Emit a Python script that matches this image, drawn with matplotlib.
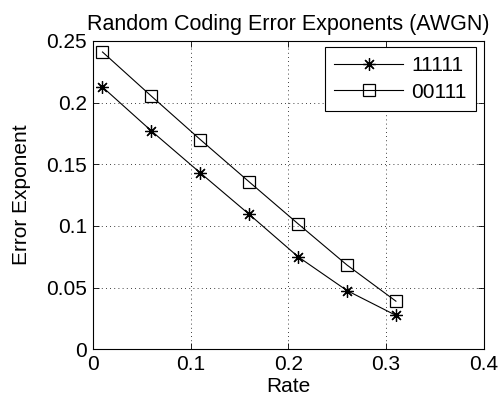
import matplotlib
matplotlib.use("Agg")
import matplotlib.pyplot as plt

# data
rate = [0.01, 0.06, 0.11, 0.16, 0.21, 0.26, 0.31]
exp_11111 = [0.2126, 0.1770, 0.1430, 0.1094, 0.0750, 0.0476, 0.0275]
exp_00111 = [0.2410, 0.2052, 0.1700, 0.1357, 0.1017, 0.0683, 0.0390]
x_ticks = [0, 0.1, 0.2, 0.3, 0.4]
y_ticks = [0, 0.05, 0.1, 0.15, 0.2, 0.25]
x_tick_labels = ["0", "0.1", "0.2", "0.3", "0.4"]
y_tick_labels = ["0", "0.05", "0.1", "0.15", "0.2", "0.25"]

plt.rcParams["font.family"] = ["Liberation Sans", "DejaVu Sans"]

fig = plt.figure(figsize=(5.02, 4.09), dpi=100)
ax = fig.add_axes([0.1847, 0.146, 0.7793, 0.754])

ax.plot(rate, exp_11111, color="black", linewidth=0.8,
        marker=(8, 2, 0), markersize=9, markeredgewidth=0.9, label="11111")
ax.plot(rate, exp_00111, color="black", linewidth=0.8,
        marker="s", markersize=8.5, markerfacecolor="none",
        markeredgewidth=0.9, label="00111")

ax.set_xlim(0, 0.4)
ax.set_ylim(0, 0.25)
ax.set_xticks(x_ticks)
ax.set_xticklabels(x_tick_labels)
ax.set_yticks(y_ticks)
ax.set_yticklabels(y_tick_labels)
ax.tick_params(direction="in", length=4, width=0.6, labelsize=15,
               top=True, right=True, pad=4)
ax.grid(True, linestyle=(0, (1, 4)), color="black", linewidth=0.6)
for spine in ax.spines.values():
    spine.set_linewidth(0.8)

ax.set_xlabel("Rate", fontsize=15, labelpad=2)
ax.set_ylabel("Error Exponent", fontsize=15, labelpad=11)
ax.set_title("Random Coding Error Exponents (AWGN)", fontsize=15.5, pad=8)

leg = ax.legend(loc="upper right", bbox_to_anchor=(0.98, 0.98), fontsize=15,
                fancybox=False, framealpha=1, edgecolor="black",
                handlelength=3.3, borderaxespad=0, borderpad=0.45,
                labelspacing=0.35, handletextpad=0.4)
leg.get_frame().set_linewidth(0.8)

fig.savefig("out.png", dpi=100)
